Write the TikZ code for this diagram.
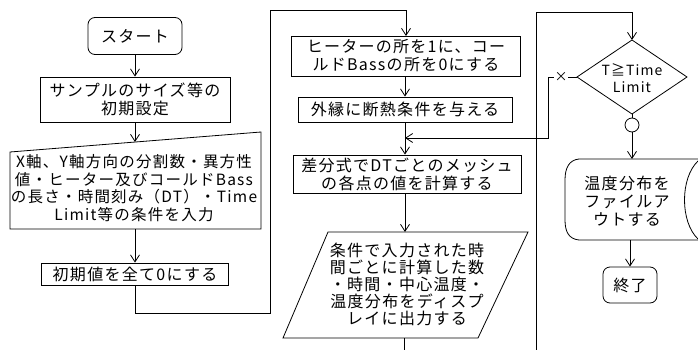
\documentclass[tikz,border=0pt]{standalone}
\usepackage{fontspec}
\newfontfamily\jp[LetterSpace=8]{Noto Sans CJK JP}
\newfontfamily\jpn{Noto Sans CJK JP}
\usetikzlibrary{arrows.meta}
\begin{document}
\begin{tikzpicture}[x=1pt,y=-1pt]
\tikzset{
  txt/.style={font=\jp\fontsize{16}{18}\selectfont, align=center, inner sep=0pt},
  box/.style={txt, draw, line width=0.8pt},
  rbox/.style={box, rounded corners=7pt},
  flow/.style={line width=0.8pt},
  arr/.style={flow, -{Straight Barb[length=7pt,width=9pt]}},
}
\useasboundingbox (0,0) rectangle (698,350);

% ---------- left column ----------
\node[rbox, minimum width=94pt, minimum height=37pt] (start) at (135,36) {スタート};
\node[box, minimum width=190pt, minimum height=45pt] (init) at (135,99.5) {サンプルのサイズ等の\\初期設定};
\coordinate (inTop) at (135,142);
\coordinate (inBot) at (135,229);
\draw[flow] (10,152) -- (261,132) -- (261,229) -- (10,229) -- cycle;
\node[txt, font=\jp\fontsize{15.5}{17.5}\selectfont] (input) at (134,188) {X軸、Y軸方向の分割数・異方性\\値・ヒーター及びコールドBass\\の長さ・時間刻み（DT）・Time\\Limit等の条件を入力};
\node[box, minimum width=187pt, minimum height=22pt] (zero) at (135,274) {初期値を全て0にする};

\draw[arr] (start.south) -- (init.north);
\draw[arr] (init.south) -- (inTop);
\draw[arr] (inBot) -- (zero.north);
\coordinate (l1) at (135,313);
\coordinate (l2) at (270,10);
\draw[arr] (zero.south) -- (l1) -| (l2) -| (406,36);

% ---------- middle column ----------
\node[box, minimum width=229pt, minimum height=40pt] (heater) at (406,56) {ヒーターの所を1に、コー\\ルドBassの所を0にする};
\node[box, minimum width=214pt, minimum height=25pt] (edge) at (405,109.5) {外縁に断熱条件を与える};
\node[box, minimum width=228pt, minimum height=38pt] (calc) at (407,174) {差分式でDTごとのメッシュ\\の各点の値を計算する};
\coordinate (dispTop) at (405,232);
\coordinate (dispBot) at (404,338);
\coordinate (midEnd) at (404,350);
\draw[flow] (328,232) -- (528,232) -- (478,338) -- (283,338) -- cycle;
\node[txt, font=\jp\fontsize{16}{17}\selectfont] (disp) at (407,284) {条件で入力された時\\間ごとに計算した数\\・時間・中心温度・\\温度分布をディスプ\\レイに出力する};

\draw[arr] (heater.south -| edge.north) -- (edge.north);
\draw[arr] (edge.south) -- (edge.south |- calc.north);
\draw[arr] (calc.south -| dispTop) -- (dispTop);
\draw[flow] (dispBot) -- (midEnd);

% ---------- right column ----------
\coordinate (rB) at (536,350);
\coordinate (rT) at (536,12);
\coordinate (dN) at (632,40);
\coordinate (dE) at (687,77);
\coordinate (dS) at (632,114);
\coordinate (dW) at (577,77);
\draw[arr] (rB) -- (rT) -| (dN);
\draw[flow] (dN) -- (dE) -- (dS) -- (dW) -- cycle;
\node[txt, font=\jp\fontsize{14}{17}\selectfont] (cond) at (632,78) {T≧Time\\Limit};
\node[inner sep=0.5pt, font=\jpn\fontsize{13}{14}\selectfont] (no) at (561,77) {×};
\coordinate (c1) at (548,77);
\coordinate (c2) at (548,138);
\coordinate (join) at (405,138);
\draw[flow] (dW) -- (no.east);
\draw[arr] (no.west) -- (c1) -- (c2) -- (join);
\node[draw, circle, flow, minimum size=14pt, inner sep=0pt] (yes) at (632,125) {};
\draw[flow] (dS) -- (yes.north);

\coordinate (stTop) at (632,159);
\coordinate (stBot) at (630,240);
\draw[flow] (698,159) -- (579,159) .. controls (569,160) and (565,168) .. (565,180)
  -- (565,220) .. controls (565,232) and (569,239) .. (579,240) -- (698,240);
\draw[flow] (698,161) .. controls (680,178) and (680,222) .. (698,239);
\node[txt] (store) at (627,201) {温度分布を\\ファイルア\\ウトする};
\draw[arr] (yes.south) -- (stTop);

\node[rbox, minimum width=54pt, minimum height=36pt] (end) at (630,285) {終了};
\draw[arr] (stBot) -- (end.north);
\end{tikzpicture}
\end{document}
